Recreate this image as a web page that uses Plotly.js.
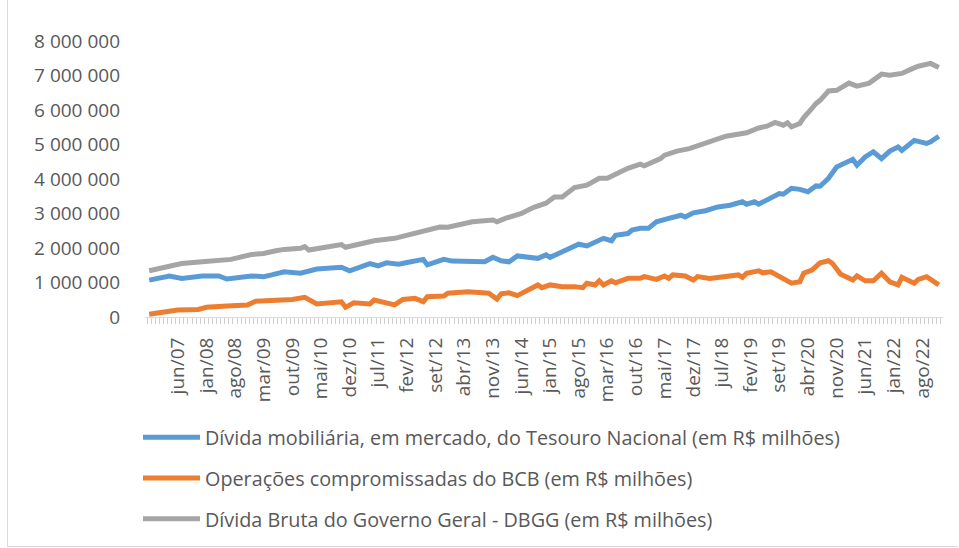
<!DOCTYPE html>
<html>
<head>
<meta charset="utf-8">
<script src="https://cdn.plot.ly/plotly-3.0.1.min.js"></script>
<style>
html,body{margin:0;padding:0;background:#fff;}
#chart{width:959px;height:548px;}
</style>
</head>
<body>
<div id="chart"></div>
<script>
// Series names
const seriesNames = [
  'Dívida mobiliária, em mercado, do Tesouro Nacional (em R$ milhões)',
  'Operações compromissadas do BCB (em R$ milhões)',
  'Dívida Bruta do Governo Geral - DBGG (em R$ milhões)'
];

// Dívida mobiliária (blue)
const mobiliariaDates = ['2006-11','2007-04','2007-07','2007-12','2008-04','2008-06','2008-12','2009-03','2009-05','2009-08','2009-12','2010-04','2010-10','2010-12','2011-05','2011-07','2011-09','2011-12','2012-02','2012-06','2012-07','2012-11','2013-01','2013-07','2013-09','2013-11','2014-01','2014-03','2014-05','2014-10','2014-12','2015-01','2015-03','2015-04','2015-08','2015-10','2016-02','2016-04','2016-05','2016-08','2016-09','2016-11','2017-01','2017-03','2017-06','2017-09','2017-10','2017-12','2018-03','2018-06','2018-09','2018-12','2019-01','2019-03','2019-04','2019-06','2019-09','2019-10','2019-12','2020-02','2020-04','2020-06','2020-07','2020-09','2020-11','2021-03','2021-04','2021-06','2021-08','2021-10','2021-12','2022-02','2022-03','2022-06','2022-09','2022-10','2022-12'];
const mobiliariaValues = [1070000,1190000,1120000,1190000,1190000,1100000,1190000,1170000,1220000,1310000,1270000,1390000,1440000,1340000,1550000,1480000,1570000,1530000,1580000,1670000,1510000,1670000,1620000,1600000,1600000,1730000,1630000,1600000,1770000,1700000,1800000,1730000,1860000,1890000,2110000,2060000,2280000,2210000,2370000,2420000,2520000,2570000,2570000,2760000,2860000,2950000,2900000,3020000,3080000,3190000,3240000,3340000,3270000,3340000,3270000,3410000,3580000,3560000,3730000,3700000,3630000,3800000,3790000,4020000,4350000,4570000,4400000,4640000,4790000,4590000,4810000,4930000,4830000,5120000,5030000,5080000,5240000];

// Operações compromissadas (orange)
const compromissadasDates = ['2006-11','2007-06','2007-11','2008-01','2008-06','2008-11','2009-01','2009-06','2009-10','2010-01','2010-04','2010-10','2010-11','2011-01','2011-05','2011-06','2011-11','2012-01','2012-04','2012-06','2012-07','2012-11','2012-12','2013-05','2013-10','2013-12','2014-01','2014-03','2014-05','2014-10','2014-11','2015-01','2015-04','2015-07','2015-09','2015-10','2015-12','2016-01','2016-02','2016-04','2016-05','2016-08','2016-11','2016-12','2017-03','2017-05','2017-06','2017-07','2017-10','2017-12','2018-01','2018-04','2018-07','2018-11','2018-12','2019-01','2019-04','2019-05','2019-07','2019-09','2019-10','2019-12','2020-02','2020-03','2020-05','2020-07','2020-09','2020-10','2020-12','2021-01','2021-03','2021-04','2021-06','2021-08','2021-10','2021-12','2022-02','2022-03','2022-06','2022-07','2022-09','2022-12'];
const compromissadasValues = [80000,200000,220000,280000,320000,350000,460000,470000,510000,570000,380000,440000,280000,410000,380000,490000,350000,510000,540000,440000,590000,610000,690000,730000,690000,520000,670000,700000,620000,930000,850000,930000,880000,880000,850000,980000,930000,1050000,930000,1050000,990000,1120000,1120000,1170000,1090000,1190000,1120000,1220000,1190000,1070000,1170000,1120000,1170000,1220000,1150000,1270000,1340000,1280000,1310000,1170000,1120000,980000,1020000,1270000,1360000,1570000,1630000,1550000,1240000,1190000,1070000,1190000,1050000,1050000,1270000,1020000,930000,1150000,980000,1090000,1170000,930000];

// DBGG (gray)
const dbggDates = ['2006-11','2007-07','2007-12','2008-07','2008-12','2009-03','2009-06','2009-08','2009-12','2010-01','2010-02','2010-10','2010-11','2011-06','2011-11','2012-04','2012-07','2012-10','2012-12','2013-06','2013-11','2013-12','2014-02','2014-06','2014-09','2014-12','2015-02','2015-04','2015-07','2015-10','2016-01','2016-03','2016-08','2016-11','2016-12','2017-04','2017-05','2017-08','2017-11','2018-03','2018-05','2018-08','2019-01','2019-04','2019-06','2019-08','2019-10','2019-11','2019-12','2020-02','2020-03','2020-04','2020-05','2020-06','2020-07','2020-09','2020-11','2021-02','2021-04','2021-07','2021-10','2021-12','2022-03','2022-05','2022-07','2022-10','2022-12'];
const dbggValues = [1340000,1550000,1600000,1670000,1810000,1840000,1920000,1960000,1990000,2040000,1940000,2100000,2020000,2210000,2280000,2420000,2520000,2610000,2600000,2760000,2810000,2760000,2860000,3000000,3180000,3300000,3480000,3480000,3750000,3820000,4020000,4020000,4310000,4430000,4380000,4590000,4690000,4810000,4880000,5030000,5140000,5240000,5340000,5480000,5530000,5640000,5560000,5630000,5510000,5610000,5780000,5900000,6050000,6190000,6280000,6550000,6570000,6780000,6690000,6780000,7040000,7010000,7060000,7170000,7270000,7350000,7230000];

// X tick labels
const tickVals = ['2007-06','2008-01','2008-08','2009-03','2009-10','2010-05','2010-12','2011-07','2012-02','2012-09','2013-04','2013-11','2014-06','2015-01','2015-08','2016-03','2016-10','2017-05','2017-12','2018-07','2019-02','2019-09','2020-04','2020-11','2021-06','2022-01','2022-08'];
const tickText = ['jun/07','jan/08','ago/08','mar/09','out/09','mai/10','dez/10','jul/11','fev/12','set/12','abr/13','nov/13','jun/14','jan/15','ago/15','mar/16','out/16','mai/17','dez/17','jul/18','fev/19','set/19','abr/20','nov/20','jun/21','jan/22','ago/22'];

const colors = ['#5B9BD5', '#ED7D31', '#A5A5A5'];
const FONT = '"Open Sans", "Liberation Sans", sans-serif';
const TXT = '#595959';

const traces = [
  {x: mobiliariaDates, y: mobiliariaValues, name: seriesNames[0], legendgroup: 'a'},
  {x: compromissadasDates, y: compromissadasValues, name: seriesNames[1], legendgroup: 'b'},
  {x: dbggDates, y: dbggValues, name: seriesNames[2], legendgroup: 'c'}
].map((t, i) => Object.assign(t, {
  type: 'scatter', mode: 'lines',
  line: {color: colors[i], width: 5, shape: 'linear'},
  hoverinfo: 'skip'
}));

// pixel helpers for paper coords
const PL = 145, PR = 943, PT = 41, PB = 317;
const px = v => (v - PL) / (PR - PL);
const py = v => (PB - v) / (PB - PT);

const layout = {
  width: 959, height: 548,
  margin: {l: PL, r: 959 - PR, t: PT, b: 548 - PB, autoexpand: false},
  paper_bgcolor: '#ffffff', plot_bgcolor: '#ffffff',
  separators: ', ',
  font: {family: FONT, size: 19, color: TXT},
  showlegend: true,
  xaxis: {
    type: 'date',
    automargin: false,
    range: ['2006-10-01', '2023-01-01'],
    tickmode: 'array', tickvals: tickVals, ticktext: tickText,
    tickangle: -90,
    ticks: '',
    ticklabelstandoff: 12,
    showgrid: false, zeroline: false,
    showline: true, linecolor: '#d9d9d9', linewidth: 1,
    tickfont: {family: FONT, size: 19, color: TXT},
    minor: {ticks: 'outside', ticklen: 6, tickwidth: 1, tickcolor: '#d0d0d0', dtick: 'M1', tick0: '2006-10-16', showgrid: false},
    fixedrange: true
  },
  yaxis: {
    automargin: false,
    range: [0, 8000000],
    tickmode: 'linear', tick0: 0, dtick: 1000000,
    tickformat: ',d',
    showgrid: false, zeroline: false, showline: false,
    ticks: '',
    ticklabelstandoff: 24,
    tickfont: {family: FONT, size: 19, color: TXT},
    fixedrange: true
  },
  legend: {
    orientation: 'v',
    x: px(138), xanchor: 'left',
    y: py(418), yanchor: 'top',
    traceorder: 'grouped',
    tracegroupgap: 12,
    itemwidth: 57,
    font: {family: FONT, size: 19.8, color: TXT},
    bgcolor: 'rgba(0,0,0,0)'
  },
  shapes: [
    {type: 'line', xref: 'paper', yref: 'paper', x0: px(7.5), x1: px(7.5), y0: py(0), y1: py(547), line: {color: '#d9d9d9', width: 1}},
    {type: 'line', xref: 'paper', yref: 'paper', x0: px(7.5), x1: px(958), y0: py(546.5), y1: py(546.5), line: {color: '#d9d9d9', width: 1}}
  ]
};

Plotly.newPlot('chart', traces, layout, {displayModeBar: false, staticPlot: true});
</script>
</body>
</html>
